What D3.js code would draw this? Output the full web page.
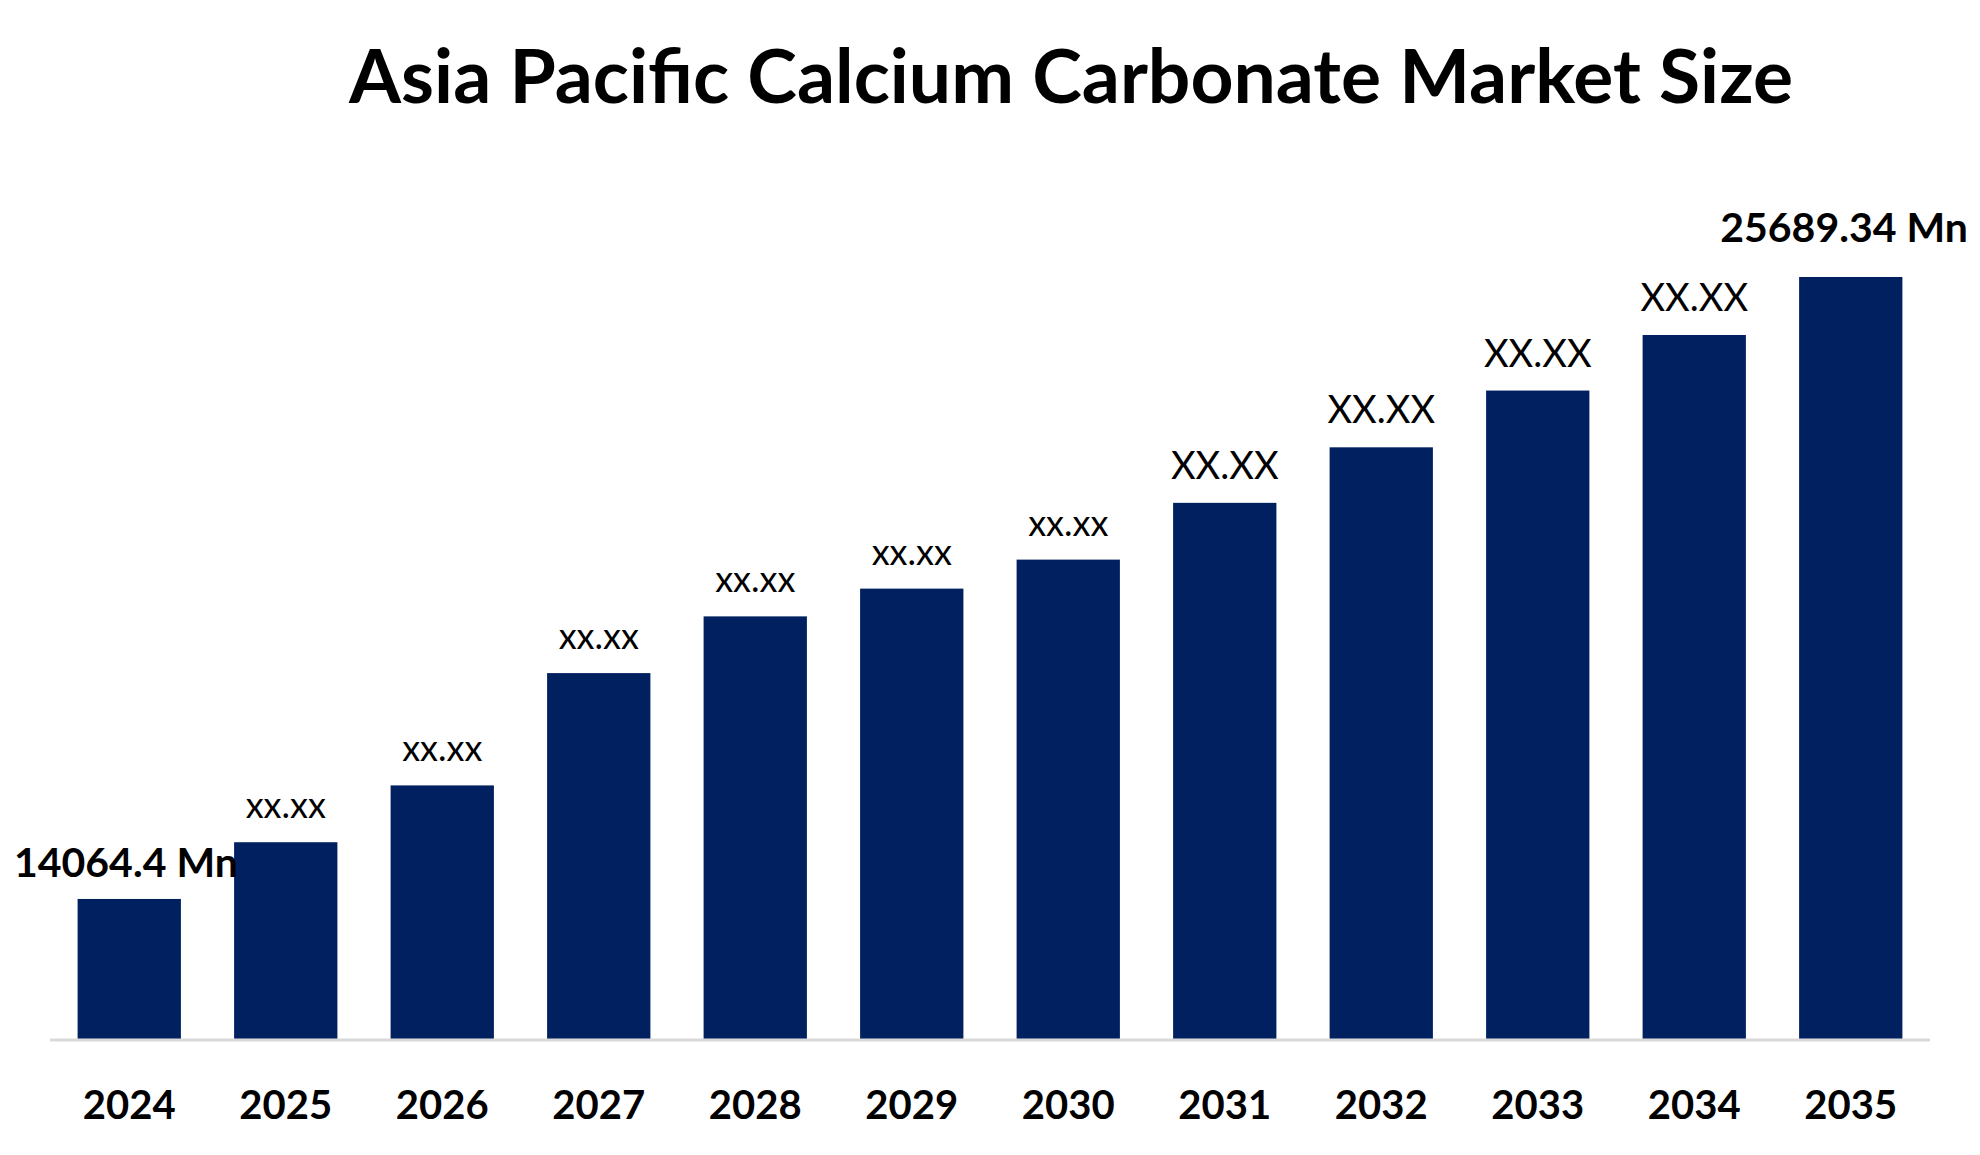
<!DOCTYPE html>
<html><head><meta charset="utf-8">
<script src="https://cdn.jsdelivr.net/npm/d3@7"></script>
<style>body{margin:0;background:#fff}</style>
</head><body>
<script>
// data
years = ['2024','2025','2026','2027','2028','2029','2030','2031','2032','2033','2034','2035']
values = [14064.4, 15125, 16187, 18286, 19346, 19865, 20407, 21468, 22506, 23567, 24605, 25689.34]
labels = ['14064.4 Mn','xx.xx','xx.xx','xx.xx','xx.xx','xx.xx','xx.xx','XX.XX','XX.XX','XX.XX','XX.XX','25689.34 Mn']

w = 1980
h = 1155
base = 1039
font = 'Lato, "Open Sans", sans-serif'

svg = d3.select('body').append('svg')
  .attr('width', w).attr('height', h)

svg.append('text')
  .attr('x', 1071).attr('y', 103)
  .attr('text-anchor', 'middle')
  .style('font-family', font).style('font-weight', 'bold').style('font-size', '75px')
  .text('Asia Pacific Calcium Carbonate Market Size')

xScale = d3.scaleBand().domain(years).range([51, 1929]).paddingInner(0.34).paddingOuter(0.17)
yScale = d3.scaleLinear().domain([11447, 25689.34]).range([base, 277])

svg.selectAll('rect').data(values).enter().append('rect')
  .attr('x', (d, i) => xScale(years[i]))
  .attr('y', d => yScale(d))
  .attr('width', xScale.bandwidth())
  .attr('height', d => base - yScale(d))
  .attr('fill', '#012060')

svg.append('line')
  .attr('x1', 50).attr('x2', 1930).attr('y1', base + 1).attr('y2', base + 1)
  .attr('stroke', '#d9d9d9').attr('stroke-width', 3)

xAxis = d3.axisBottom(xScale).tickSize(0).tickPadding(0)
g = svg.append('g').attr('transform', `translate(0, ${base + 52})`).call(xAxis)
g.select('.domain').remove()
g.selectAll('text').style('font-family', font).style('font-weight', 'bold').style('font-size', '40px').attr('fill', '#000')

svg.selectAll('.lbl').data(values).enter().append('text')
  .attr('class', 'lbl')
  .attr('x', (d, i) => i == 0 ? 14 : i == 11 ? 1968 : xScale(years[i]) + xScale.bandwidth() / 2)
  .attr('y', (d, i) => yScale(d) - (i == 0 ? 22 : i == 11 ? 35 : 24))
  .attr('text-anchor', (d, i) => i == 0 ? 'start' : i == 11 ? 'end' : 'middle')
  .style('font-family', font)
  .style('font-weight', (d, i) => (i == 0 || i == 11) ? 'bold' : 'normal')
  .style('font-size', (d, i) => (i == 0 || i == 11) ? '41px' : i < 7 ? '36px' : '38px')
  .text((d, i) => labels[i])
</script>
</body></html>
